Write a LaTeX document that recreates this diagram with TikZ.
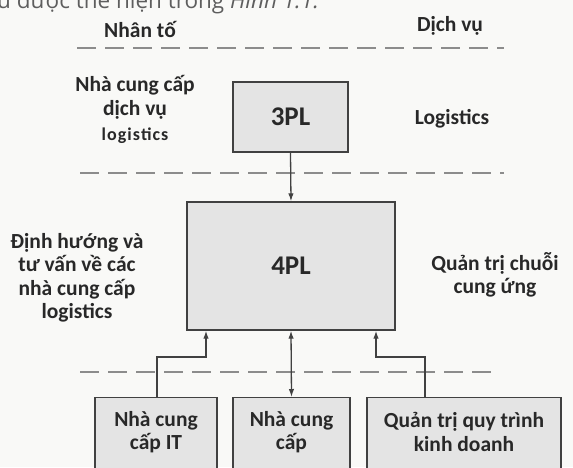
\documentclass[tikz,border=0pt]{standalone}
\usepackage{fontspec}
\setmainfont{Carlito}
\newfontfamily\bookfont{Open Sans}
\usetikzlibrary{arrows.meta}
\definecolor{txt}{RGB}{40,40,40}
\definecolor{boxfill}{RGB}{228,228,228}
\definecolor{boxdraw}{RGB}{65,65,65}
\definecolor{dashc}{RGB}{140,140,140}
\definecolor{bg}{RGB}{249,249,247}
\tikzset{
  lbl/.style={font=\bfseries\fontsize{21.5}{23.5}\selectfont, text=txt, align=center, inner sep=0pt},
  big/.style={font=\bfseries\fontsize{27}{30}\selectfont},
  pbox/.style={draw=boxdraw, fill=boxfill, line width=1.4pt, inner sep=0pt},
  sep/.style={draw=dashc, line width=2pt, dash pattern=on 19pt off 9pt},
  conn/.style={draw=boxdraw, line width=1.3pt, -{Latex[length=8pt,width=5.5pt]}},
  conn2/.style={draw=boxdraw, line width=1.3pt, {Latex[length=8pt,width=5.5pt]}-{Latex[length=8pt,width=5.5pt]}}
}
\begin{document}
\begin{tikzpicture}[x=1pt,y=-1pt]
\useasboundingbox[fill=bg] (0,0) rectangle (573,467);
% cut-off book line at the top
\node[anchor=base west, inner sep=0pt, text=txt!75, font=\bookfont\fontsize{22.5}{26}\selectfont] (booktxt) at (-3,8) {u được thể hiện trong \textit{Hình 1.1.}};
% headers
\node[lbl] (nhanto) at (140,29) {Nhân tố};
\node[lbl] (dichvu) at (450,26) {Dịch vụ};
% separators
\coordinate (s1a) at (77,48); \coordinate (s1b) at (504,48);
\coordinate (s2a) at (80,173); \coordinate (s2b) at (504,173);
\coordinate (s3a) at (80,372); \coordinate (s3b) at (499,372);
\path[sep] (s1a) -- (s1b);
\path[sep] (s2a) -- (s2b);
\path[sep] (s3a) -- (s3b);
% 3PL row
\node[lbl, font=\bfseries\fontsize{21.5}{24.5}\selectfont] (l3) at (135,109) {Nhà cung cấp\\dịch vụ\\{\fontsize{18}{20}\selectfont\addfontfeature{LetterSpace=6}logistics}};
\node[pbox, minimum width=115pt, minimum height=70pt] (p3) at (290.5,117) {};
\node[lbl, big] (t3) at (p3.center) {3PL};
\node[lbl] (r3) at (452,119) {Logistics};
% 4PL row
\node[pbox, minimum width=208pt, minimum height=128pt] (p4) at (291,266) {};
\node[lbl, big] (t4) at (p4.center) {4PL};
\node[lbl] (l4) at (77,278) {Định hướng và\\tư vấn về các\\nhà cung cấp\\logistics};
\node[lbl] (r4) at (495,275) {Quản trị chuỗi\\cung ứng};
% bottom boxes
\node[pbox, anchor=north, minimum width=122pt, minimum height=90pt] (bit) at (156,397) {};
\node[pbox, anchor=north, minimum width=117pt, minimum height=90pt] (bnc) at (291.5,397) {};
\node[pbox, anchor=north, minimum width=194pt, minimum height=90pt] (bqt) at (464,397) {};
\node[lbl] (tit) at (156,432) {Nhà cung\\cấp IT};
\node[lbl] (tnc) at (291.5,432) {Nhà cung\\cấp};
\node[lbl] (tqt) at (464,432) {Quản trị quy trình\\kinh doanh};
% connectors
\draw[conn] (p3.south) -- (p4.north);
\coordinate (jl1) at (157,357);
\coordinate (jl2) at (206,357);
\draw[conn] (bit.north -| jl1) -- (jl1) -- (jl2) -- (jl2 |- p4.south);
\coordinate (jr1) at (425,357);
\coordinate (jr2) at (376,357);
\draw[conn] (bqt.north -| jr1) -- (jr1) -- (jr2) -- (jr2 |- p4.south);
\draw[conn2] (p4.south) -- (bnc.north);
\end{tikzpicture}
\end{document}
